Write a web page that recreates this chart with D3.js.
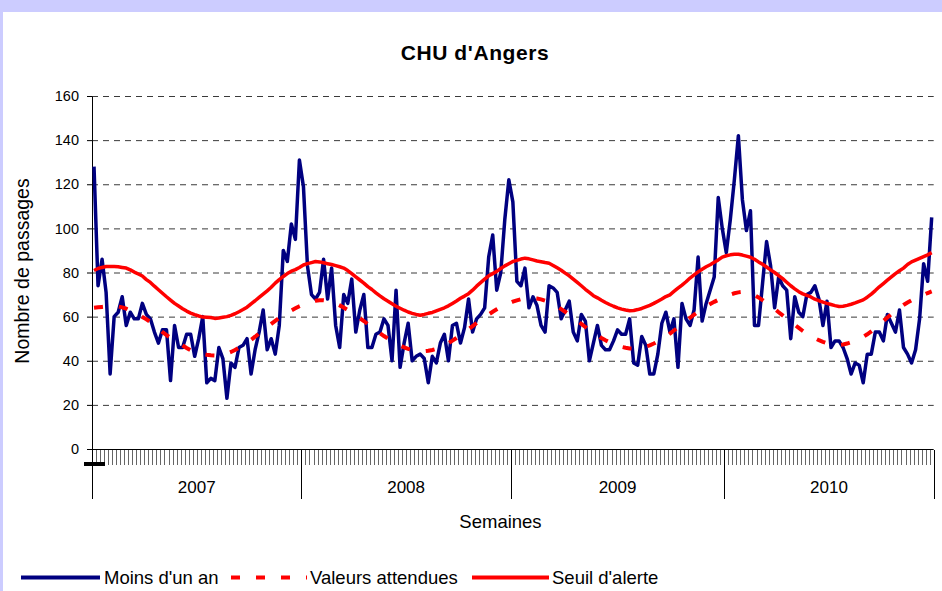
<!DOCTYPE html>
<html>
<head>
<meta charset="utf-8">
<script src="https://cdn.jsdelivr.net/npm/d3@7"></script>
<style>
  body { margin: 0; background: #ccccff; }
  svg { display: block; font-family: Arial, "Liberation Sans", sans-serif; }
</style>
</head>
<body>
<svg id="chart" width="942" height="591"></svg>
<script>
// one value per week, 2007 -> 2010
const years = ["2007", "2008", "2009", "2010"];
const weeksPerYear = [52, 52, 53, 52];

const moinsUnAn = [
  128, 74, 86, 71, 34, 60, 62, 69, 56, 62, 59, 59, 66, 61, 59, 53, 48, 54, 54, 31, 56, 46, 46, 52, 52, 42,
  50, 60, 30, 32, 31, 46, 41, 23, 39, 37, 46, 47, 50, 34, 45, 53, 63, 45, 50, 43, 56, 90, 85, 102, 95, 131,
  // 2008
  119, 83, 70, 68, 71, 86, 68, 82, 56, 46, 70, 66, 77, 53, 63, 70, 46, 46, 52, 53, 59, 56, 40, 72, 37, 48,
  57, 40, 42, 43, 41, 30, 42, 39, 48, 52, 40, 56, 57, 48, 55, 68, 53, 59, 61, 64, 87, 97, 72, 80, 104, 122,
  // 2009
  112, 76, 74, 82, 64, 69, 65, 56, 53, 74, 73, 71, 59, 63, 67, 53, 49, 61, 58, 40, 48, 56, 47, 45, 45, 49,
  54, 52, 52, 59, 39, 38, 51, 47, 34, 34, 43, 57, 62, 53, 59, 37, 66, 59, 56, 63, 87, 58, 66, 72, 78, 114, 100,
  // 2010
  89, 104, 122, 142, 113, 99, 108, 56, 56, 75, 94, 83, 64, 78, 74, 72, 50, 69, 62, 60, 70, 71, 74, 68, 56, 67,
  46, 49, 49, 46, 41, 34, 39, 38, 30, 43, 43, 53, 53, 49, 61, 57, 53, 63, 46, 43, 39, 45, 59, 84, 76, 105
];

const valeursAttendues = [
  64, 64.2, 64.4, 64.6, 64.7, 64.7, 64.6, 64.2, 63.6, 62.8, 61.8, 60.8, 59.8, 58.8, 57.6, 56.2, 54.6, 53,
  51.6, 50.4, 49.2, 48, 46.9, 45.8, 44.8, 44, 43.4, 43, 42.7, 42.5, 42.4, 42.5, 42.8, 43.3, 44, 44.9,
  45.9, 47, 48.2, 49.5, 50.9, 52.4, 53.9, 55.3, 56.7, 58.1, 59.4, 60.6, 61.7, 62.8, 63.8, 64.7,
  // 2008
  65.5, 66.2, 66.8, 67.2, 67.4, 67.4, 67.2, 66.7, 66, 65.1, 64.1, 63, 61.8, 60.6, 59.3, 58, 56.6, 55.2,
  53.8, 52.5, 51.2, 50, 48.9, 47.8, 46.9, 46.1, 45.4, 44.9, 44.5, 44.3, 44.3, 44.5, 44.9, 45.4, 46.1, 47,
  48, 49.1, 50.3, 51.6, 52.9, 54.3, 55.7, 57.1, 58.5, 59.8, 61, 62.2, 63.3, 64.3, 65.2, 66,
  // 2009
  66.8, 67.4, 67.9, 68.2, 68.4, 68.4, 68.2, 67.8, 67.2, 66.4, 65.5, 64.5, 63.4, 62.2, 60.9, 59.5, 58.1, 56.7,
  55.3, 53.9, 52.6, 51.4, 50.3, 49.3, 48.4, 47.6, 46.9, 46.3, 45.9, 45.6, 45.5, 45.6, 45.9, 46.4, 47, 47.8,
  48.7, 49.8, 51, 52.3, 53.7, 55.1, 56.6, 58.1, 59.5, 60.9, 62.2, 63.4, 64.6, 65.7, 66.7, 67.6, 68.5,
  // 2010
  69.3, 70, 70.6, 71, 71.2, 71.1, 70.6, 69.8, 68.7, 67.5, 66.2, 64.9, 63.5, 62, 60.6, 59.2, 57.8, 56.3,
  54.9, 53.5, 52.2, 51.2, 50.2, 49.3, 48.6, 48, 47.6, 47.3, 47.2, 47.4, 47.8, 48.4, 49.1, 49.9, 50.8, 52,
  53.3, 54.7, 56.4, 58, 59.6, 61.1, 62.6, 64, 65.3, 66.4, 67.4, 68.3, 69.1, 69.9, 70.7, 71.4
];

const seuilAlerte = [
  80.9, 81.8, 82.3, 82.7, 82.7, 82.7, 82.6, 82.3, 82, 81.2, 80.2, 79.3, 78.4, 76.8, 75.5, 73.8, 72.2, 70.6,
  69, 67.5, 66, 64.8, 63.6, 62.5, 61.6, 60.9, 60.3, 59.8, 59.7, 59.6, 59.2, 59.4, 59.7, 60, 60.6, 61.3,
  62.2, 63.2, 64.3, 65.8, 67.2, 68.7, 70.2, 71.7, 73.3, 75.2, 76.8, 78.2, 79.5, 80.6, 81.3, 82.3,
  // 2008
  83.4, 84, 84.5, 85, 84.8, 84.4, 84, 83.6, 83.1, 82.6, 82, 80.9, 79.5, 78, 76.6, 75.2, 73.6, 72.3,
  70.8, 69.4, 68.1, 67, 65.8, 64.7, 63.8, 62.9, 62.1, 61.5, 61, 60.6, 61, 61.5, 61.9, 62.6, 63.3, 64,
  64.9, 66, 67.1, 68.3, 69.3, 70.4, 72, 73.8, 75.4, 77, 78.5, 79.5, 80.5, 81.8, 83, 84,
  // 2009
  85, 85.5, 86.1, 86.5, 86.2, 85.7, 85.2, 84.9, 84.5, 84.2, 83.2, 82.1, 81, 79.7, 78.5, 77, 75.5, 74,
  72.4, 71, 69.5, 68.5, 67.4, 66.4, 65.5, 64.7, 64, 63.4, 63, 62.7, 62.8, 63.2, 63.7, 64.4, 65.1, 66,
  67, 68, 69.1, 69.9, 71.4, 72.9, 74.3, 75.8, 77.5, 78.9, 80.3, 81.5, 82.6, 83.5, 84.6, 85.7, 87,
  // 2010
  87.6, 88, 88.3, 88.3, 87.9, 87.4, 86.9, 86, 84.8, 83.7, 82.5, 81.2, 80, 78.6, 77.2, 75.6, 74, 72.6,
  71.3, 70.3, 69.6, 68.9, 67.9, 67.2, 66.6, 66, 65.5, 65, 64.6, 64.7, 65.1, 65.6, 66.2, 66.9, 67.6, 68.8,
  70.2, 71.8, 73.5, 75, 76.5, 78, 79.5, 80.8, 82, 83.6, 84.8, 85.6, 86.4, 87.2, 88, 89
];

const yTicks = [0, 20, 40, 60, 80, 100, 120, 140, 160];

const svg = d3.select("#chart");
const nWeeks = d3.sum(weeksPerYear);

svg.append("rect")
    .attr("x", 3).attr("y", 12)
    .attr("width", 939).attr("height", 579)
    .attr("fill", "#fff");

const xScale = d3.scaleBand()
    .domain(d3.range(nWeeks))
    .range([92, 933.7]);
const yScale = d3.scaleLinear()
    .domain([0, 160])
    .range([449, 96]);
const cx = i => xScale(i) + xScale.bandwidth() / 2;
const plotW = xScale.range()[1] - xScale.range()[0];

// gridlines
const grid = svg.append("g")
    .attr("transform", "translate(92,0)")
    .call(d3.axisLeft(yScale).tickValues(yTicks.slice(1)).tickSize(-plotW).tickFormat(""));
grid.select(".domain").remove();
grid.selectAll("line")
    .attr("stroke", "#3a3a3a")
    .attr("stroke-dasharray", "6,5");

// y axis
const yAxis = svg.append("g")
    .attr("transform", "translate(92,0)")
    .call(d3.axisLeft(yScale).tickValues(yTicks).tickSize(5).tickSizeOuter(0).tickPadding(8));
yAxis.attr("font-size", 14.5).attr("font-family", null);
yAxis.select(".domain").attr("stroke", "#000");
yAxis.selectAll("text").attr("fill", "#000");

// x axis: one tick per week, long ticks between years
const edges = d3.range(nWeeks + 1).map(i => i < nWeeks ? xScale(i) : xScale.range()[1]);
svg.append("line")
    .attr("x1", 92).attr("x2", edges[nWeeks])
    .attr("y1", 449.5).attr("y2", 449.5)
    .attr("stroke", "#000");
svg.append("g").selectAll("line")
    .data(edges)
    .enter().append("line")
    .attr("x1", d => Math.round(d) + 0.5).attr("x2", d => Math.round(d) + 0.5)
    .attr("y1", 450).attr("y2", 465)
    .attr("stroke", "#666");

const yearStarts = [0];
weeksPerYear.forEach((w, i) => yearStarts.push(yearStarts[i] + w));
svg.append("g").selectAll("line")
    .data(yearStarts)
    .enter().append("line")
    .attr("x1", d => Math.round(edges[d]) + 0.5).attr("x2", d => Math.round(edges[d]) + 0.5)
    .attr("y1", 450).attr("y2", 499)
    .attr("stroke", "#000");
svg.append("g").selectAll("text")
    .data(years)
    .enter().append("text")
    .attr("x", (d, i) => (edges[yearStarts[i]] + edges[yearStarts[i + 1]]) / 2)
    .attr("y", 493)
    .attr("text-anchor", "middle")
    .attr("font-size", 17)
    .text(d => d);

svg.append("rect")
    .attr("x", 84).attr("y", 462)
    .attr("width", 21).attr("height", 4)
    .attr("fill", "#000");

// series
const line = d3.line()
    .x((d, i) => cx(i))
    .y(d => yScale(d));

svg.append("path")
    .datum(moinsUnAn)
    .attr("d", line)
    .attr("fill", "none")
    .attr("stroke", "#000080")
    .attr("stroke-width", 3.5)
    .attr("stroke-linejoin", "round");

svg.append("path")
    .datum(valeursAttendues)
    .attr("d", line)
    .attr("fill", "none")
    .attr("stroke", "#ff0000")
    .attr("stroke-width", 4)
    .attr("stroke-dasharray", "9,16");

svg.append("path")
    .datum(seuilAlerte)
    .attr("d", line)
    .attr("fill", "none")
    .attr("stroke", "#ff0000")
    .attr("stroke-width", 3.5)
    .attr("stroke-linejoin", "round");

// titles
svg.append("text")
    .attr("x", 475).attr("y", 60)
    .attr("text-anchor", "middle")
    .attr("font-size", 21)
    .attr("font-weight", "bold")
    .attr("letter-spacing", 0.6)
    .text("CHU d'Angers");

svg.append("text")
    .attr("transform", "translate(28.5,271) rotate(-90)")
    .attr("text-anchor", "middle")
    .attr("font-size", 19.5)
    .text("Nombre de passages");

svg.append("text")
    .attr("x", 500.5).attr("y", 528)
    .attr("text-anchor", "middle")
    .attr("font-size", 18.5)
    .text("Semaines");

// legend
const legendItems = [
    { label: "Moins d'un an", color: "#000080", dash: null, x1: 21, x2: 100, tx: 104 },
    { label: "Valeurs attendues", color: "#ff0000", dash: "9,16", x1: 231, x2: 307, tx: 310 },
    { label: "Seuil d'alerte", color: "#ff0000", dash: null, x1: 472, x2: 549, tx: 552 }
];
const legend = svg.append("g");
legend.selectAll("line")
    .data(legendItems)
    .enter().append("line")
    .attr("x1", d => d.x1).attr("x2", d => d.x2)
    .attr("y1", 577.5).attr("y2", 577.5)
    .attr("stroke", d => d.color)
    .attr("stroke-width", 4)
    .attr("stroke-dasharray", d => d.dash);
legend.selectAll("text")
    .data(legendItems)
    .enter().append("text")
    .attr("x", d => d.tx).attr("y", 583.5)
    .attr("font-size", 18.5)
    .text(d => d.label);
</script>
</body>
</html>
